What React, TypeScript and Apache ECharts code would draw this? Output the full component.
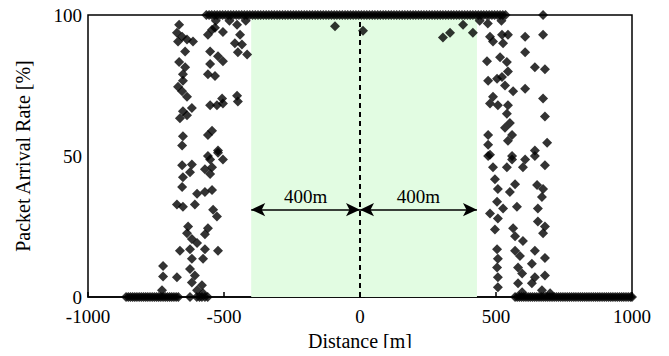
import React, { useEffect, useRef } from "react";
import * as echarts from "echarts";

// Points sitting on the 100 % line
const topBandX = [-565,-555,-545,-535,-525,-515,-505,-495,-485,-475,-465,-455,-445,-435,-425,-415,-405,-395,-385,-375,-365,-355,-345,-335,-325,-315,-305,-295,-285,-275,-265,-255,-245,-235,-225,-215,-205,-195,-185,-175,-165,-155,-145,-135,-125,-115,-105,-95,-85,-75,-65,-55,-45,-35,-25,-15,-5,5,15,25,35,45,55,65,75,85,95,105,115,125,135,145,155,165,175,185,195,205,215,225,235,245,255,265,275,285,295,305,315,325,335,345,355,365,375,385,395,405,415,425,435,445,455,465,475,485,495,505,515,525,535,673];
// Points sitting on the 0 % line
const zeroRowX = [-860,-852,-844,-836,-828,-820,-812,-804,-796,-788,-780,-772,-764,-756,-748,-740,-732,-724,-716,-708,-700,-692,-684,-676,-668,-625,-600,-590,-581,-570,-560,570,578,586,594,602,610,618,626,634,642,650,658,666,674,682,690,698,706,714,722,730,738,746,754,762,770,778,786,794,802,810,818,826,834,842,850,858,866,874,882,890,898,906,914,922,930,938,946,954,962,970,978,986,994,1000];
// Scattered points [distance, rate]
const leftPoints = [
  [-665,96.5],[-673,93.7],[-654,92.3],[-636,91.3],[-614,90.6],[-669,90.6],[-643,87.1],[-665,83.3],[-643,81.5],[-651,79],[-651,76.7],[-669,74.6],[-654,73],[-636,71],[-618,67],[-651,65.9],[-662,63.4],[-636,64.5],[-651,57],[-654,53.7],
  [-544,94.8],[-559,93],[-533,95.5],[-504,94],[-551,87.1],[-522,85.4],[-504,83.6],[-551,82.6],[-559,79],[-533,78.4],[-507,70.4],[-551,68],[-526,68],[-504,68.6],[-544,59],[-559,57.5],[-522,52],[-559,50],
  [-452,96.5],[-441,93],[-460,90],[-434,89.5],[-449,86.8],[-415,86],[-452,71.4],[-449,69.3],
  [-522,51.2],[-504,48.8],[-551,48.8],[-654,46.7],[-618,47],[-625,44.3],[-651,42.5],[-654,39],[-570,45.3],[-544,46],[-551,43.6],[-599,36.6],[-570,37.3],[-544,38],[-673,32.8],[-651,32],[-607,32.8],[-540,31],[-526,28.6],[-632,25],[-636,22.6],[-559,24.4],[-570,22.3],[-618,20.6],[-599,19.2],[-662,16.4],[-625,17],[-570,17],[-522,16.4],[-618,13.6],[-577,13.6],[-724,11],[-625,10],[-724,7.3],[-673,7],[-607,7.7],[-618,5.2],[-581,4.2],[-599,2.4],[-577,1.4],[-728,2.4]
];
const rightPoints = [
  [607,92.3],[673,93],[607,86.8],[643,81.5],[680,80.8],[607,73.9],[673,70.4],[680,64],[688,54.7],[643,52],
  [478,92.3],[489,90.6],[522,93],[544,93],[526,90],[467,83.6],[515,85],[540,83.3],[544,80],[522,78],[471,76.7],[504,77.4],[533,75],[563,73],[489,71],[478,68.6],[507,68],[544,68],[540,65],[551,61.7],[533,60],[471,57.5],[559,57.5],[544,55.4],[471,54],[478,50.5],[559,50],
  [471,50],[559,48.8],[607,48.8],[643,50],[680,46.7],[489,46],[540,46],[599,46],[496,41.8],[570,40],[551,37.3],[507,38.3],[651,39.7],[673,38.3],[669,35.5],[504,33.8],[478,29.6],[526,31.4],[577,32],[507,27.9],[496,24],[654,31.4],[654,26.8],[680,25],[673,22.6],[563,24.4],[570,21.6],[599,19.9],[504,17],[507,13.6],[570,16.4],[588,14.6],[643,16.4],[680,13.9],[504,10.5],[507,7],[507,3.5],[581,10.5],[596,8.4],[632,11.8],[643,7],[680,7.7],[581,4.9],[632,4.9],[596,1.7],[669,2.4],[699,1.4]
];
const nearTopPoints = [[-92,96],[11,94.4],[305,92],[331,93.7],[379,96.5],[415,93.7],[-420,98],[-480,98],[440,98],[470,97],[520,98],[-530,98]];
const zoneStart = -400;
const zoneEnd = 430;
const arrowLevel = 31;
const arrowLabel = "400m";

const FONT = "'Liberation Serif', 'Times New Roman', serif";

export default function App() {
  const ref = useRef<HTMLDivElement>(null);
  useEffect(() => {
    const chart = echarts.init(ref.current!, null, { renderer: "svg" });
    const pts = [
      ...topBandX.map((x) => [x, 100]),
      ...zeroRowX.map((x) => [x, 0]),
      ...leftPoints,
      ...rightPoints,
      ...nearTopPoints,
    ];
    chart.setOption({
      animation: false,
      grid: { left: 88, right: 37, top: 15, bottom: 55, show: true, borderColor: "#000", borderWidth: 1.5, backgroundColor: "transparent" },
      xAxis: {
        type: "value", min: -1000, max: 1000, interval: 500,
        name: "Distance [m]", nameLocation: "middle", nameGap: 32,
        nameTextStyle: { fontFamily: FONT, fontSize: 20, color: "#000", lineHeight: 20 },
        axisLine: { lineStyle: { color: "#000", width: 1.5 } },
        axisTick: { inside: true, length: 5, lineStyle: { color: "#000", width: 1.5 } },
        axisLabel: { fontFamily: FONT, fontSize: 19, color: "#000", margin: 10, lineHeight: 19, formatter: (v: number) => String(v) },
        splitLine: { show: false },
      },
      yAxis: {
        type: "value", min: 0, max: 100, interval: 10,
        name: "Packet Arrival Rate [%]", nameLocation: "middle", nameGap: 55,
        nameTextStyle: { fontFamily: FONT, fontSize: 20, color: "#000" },
        axisLine: { lineStyle: { color: "#000", width: 1.5 } },
        axisTick: { inside: true, length: 5, lineStyle: { color: "#000", width: 1.5 } },
        axisLabel: { fontFamily: FONT, fontSize: 19, color: "#000", margin: 6, lineHeight: 17, formatter: (v: number) => (v % 50 === 0 ? String(v) : "") },
        splitLine: { show: false },
      },
      series: [
        {
          type: "line", data: [], silent: true,
          markArea: { silent: true, itemStyle: { color: "#e2fce2" }, data: [[{ xAxis: zoneStart }, { xAxis: zoneEnd }]] },
          markLine: {
            silent: true, symbol: ["none", "none"],
            lineStyle: { color: "#000", type: [5, 4], width: 2 },
            label: { show: false },
            data: [[{ coord: [0, 0] }, { coord: [0, 100] }]],
          },
        },
        {
          type: "line", data: [], silent: true,
          markLine: {
            silent: true, symbol: ["arrow", "arrow"], symbolSize: [10, 14],
            lineStyle: { color: "#000", type: "solid", width: 1.5 },
            label: { show: true, formatter: arrowLabel, position: "middle", distance: 4, fontFamily: FONT, fontSize: 19, color: "#000" },
            data: [
              [{ coord: [zoneStart, arrowLevel] }, { coord: [0, arrowLevel] }],
              [{ coord: [0, arrowLevel] }, { coord: [zoneEnd, arrowLevel] }],
            ],
          },
        },
        {
          type: "scatter", data: pts, symbol: "diamond", symbolSize: 10,
          itemStyle: { color: "#000" }, clip: false,
        },
      ],
    });
    return () => chart.dispose();
  }, []);
  return <div ref={ref} style={{ width: 669, height: 356, margin: -8 }} />;
}
